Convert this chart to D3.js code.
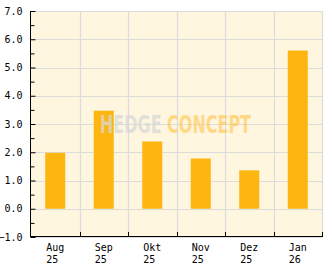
<!DOCTYPE html>
<html>
<head>
<meta charset="utf-8">
<script src="https://cdn.jsdelivr.net/npm/d3@7"></script>
<style>
  body { margin: 0; background: #fff; }
  svg text { font-family: "DejaVu Sans Mono", monospace; font-size: 10px; fill: #000; }
</style>
</head>
<body>
<svg id="chart" width="332" height="269"></svg>
<script>
const months = ["Aug", "Sep", "Okt", "Nov", "Dez", "Jan"];
const years = ["25", "25", "25", "25", "25", "26"];
const values = [1.98, 3.47, 2.38, 1.78, 1.36, 5.6];
const yTicks = [-1, 0, 1, 2, 3, 4, 5, 6, 7];

const svg = d3.select("#chart");
const plotL = 31, plotR = 322, plotT = 11, plotB = 237;

const x = d3.scaleBand().domain(months).range([plotL, plotR]);
const y = d3.scaleLinear().domain([-1, 7]).range([plotB, plotT]);

// plot background
svg.append("rect")
  .attr("x", plotL).attr("y", plotT)
  .attr("width", plotR - plotL).attr("height", plotB - plotT)
  .attr("fill", "#fff6df");

// grid
const vLines = months.slice(1).map(m => x(m)).concat([plotR]);
const grid = svg.append("g").attr("stroke", "#dcdcdc").attr("stroke-width", 1.2);
grid.selectAll("line.h")
  .data(yTicks)
  .join("line")
  .attr("class", "h")
  .attr("x1", plotL).attr("x2", plotR)
  .attr("y1", d => Math.round(y(d)) + 0.5).attr("y2", d => Math.round(y(d)) + 0.5);
grid.selectAll("line.v")
  .data(vLines)
  .join("line")
  .attr("class", "v")
  .attr("y1", plotT).attr("y2", plotB)
  .attr("x1", d => Math.round(d) + 0.5).attr("x2", d => Math.round(d) + 0.5);

// bars
svg.append("g").selectAll("rect")
  .data(values)
  .join("rect")
  .attr("x", (d, i) => x(months[i]) + x.bandwidth() / 2 - 10)
  .attr("width", 20)
  .attr("y", d => y(d))
  .attr("height", d => y(0) - y(d))
  .attr("fill", "#fdb50f");

// watermark
const wm = svg.append("text")
  .attr("x", 100).attr("y", 133)
  .attr("textLength", 151)
  .attr("lengthAdjust", "spacingAndGlyphs")
  .style("font-family", "'Liberation Sans Narrow', 'DejaVu Sans Condensed', sans-serif")
  .style("font-weight", "bold")
  .style("font-size", "25px");
wm.append("tspan").text("HEDGE ").style("fill", "#d8d8d8").style("fill-opacity", 0.75);
wm.append("tspan").text("CONCEPT").style("fill", "#ffc54a").style("fill-opacity", 0.6);

// y axis
const yAxis = svg.append("g")
  .attr("transform", `translate(${plotL - 0.5},0)`)
  .call(d3.axisLeft(y).tickValues(yTicks).tickFormat(d3.format(".1f")).tickSize(-5).tickPadding(8));
yAxis.select(".domain").remove();
svg.append("g")
  .attr("transform", `translate(${plotL - 0.5},0)`)
  .call(d3.axisLeft(y).tickValues(d3.range(-0.5, 7, 1)).tickFormat("").tickSize(-4))
  .select(".domain").remove();
svg.selectAll(".tick text").style("font-family", "DejaVu Sans Mono").style("font-size", "10px");

svg.append("line")
  .attr("x1", plotL - 0.5).attr("x2", plotL - 0.5)
  .attr("y1", plotT).attr("y2", plotB)
  .attr("stroke", "#000");

// x axis
svg.append("line")
  .attr("x1", plotL - 1).attr("x2", plotR + 1)
  .attr("y1", plotB - 0.5).attr("y2", plotB - 0.5)
  .attr("stroke", "#000");
svg.append("g").selectAll("line")
  .data(vLines)
  .join("line")
  .attr("x1", d => Math.round(d) + 0.5).attr("x2", d => Math.round(d) + 0.5)
  .attr("y1", plotB - 5).attr("y2", plotB)
  .attr("stroke", "#000");

const xl = svg.append("g").selectAll("text")
  .data(months)
  .join("text")
  .attr("x", d => x(d) + x.bandwidth() / 2 - 9)
  .attr("y", 251);
xl.append("tspan").text(d => d);
xl.append("tspan")
  .attr("x", d => x(d) + x.bandwidth() / 2 - 9)
  .attr("dy", 12)
  .text((d, i) => years[i]);
</script>
</body>
</html>
